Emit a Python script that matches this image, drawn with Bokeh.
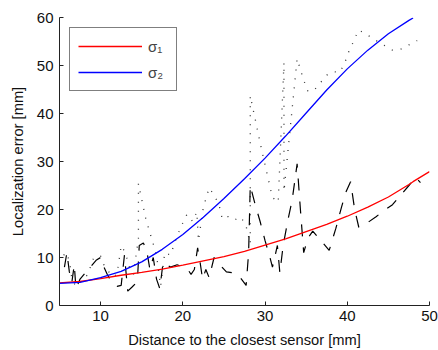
from bokeh.plotting import figure
from bokeh.models import Range1d, Legend, LegendItem, FixedTicker
from bokeh.embed import file_html
from bokeh.resources import INLINE

# Fitted model curves
fit_x = [5, 7.5, 10, 12.5, 15, 17.5, 20, 22.5, 25, 27.5, 30, 32.5, 35, 37.5, 40, 42.5, 45, 47.5, 48]
sigma1 = [4.7, 5.0, 5.6, 6.3, 6.9, 7.6, 8.4, 9.3, 10.2, 11.3, 12.6, 13.9, 15.4, 16.9, 18.6, 20.5, 22.6, 25.2, 25.8]
sigma2 = [4.6, 4.8, 5.8, 7.1, 9.1, 11.7, 14.8, 18.4, 22.3, 26.4, 30.7, 35.3, 40.1, 44.9, 49.3, 53.2, 56.6, 59.4, 59.9]
red_x_tail = [48, 50]
red_y_tail = [25.8, 27.9]

# Measured errors (dashed = sigma1 measurements)
dash_x = [5.6, 5.9, 6.2, 6.5, 6.8, 7.0, 7.5, 8.5, 9.5, 10.0, 10.4, 10.8, 11.3, 12.0, 12.5, 12.9, 13.3, 13.8,
          14.2, 14.5, 14.7, 15.2, 15.6, 16.0, 16.4, 16.8, 17.2, 17.6, 18.5, 19.3, 20.0, 20.6, 21.0, 21.4,
          21.8, 22.1, 22.4, 22.8, 23.2, 23.8, 24.5, 25.3, 26.2, 27.0, 27.7, 28.0, 28.2, 28.8, 29.4, 30.0,
          30.6, 30.9, 31.5, 31.8, 32.2, 32.8, 33.3, 33.9, 34.3, 34.7, 35.2, 35.8, 36.8, 37.8, 38.6, 39.3,
          39.8, 40.4, 40.9, 41.4, 42.5, 43.5, 44.5, 45.5, 46.5, 47.5, 48.3, 48.9]
dash_y = [8, 11, 7, 4.8, 8.5, 3.5, 5.5, 7.5, 9.5, 10, 8, 6.5, 5, 4, 4.2, 10.5, 3, 3.8,
          4.5, 6, 12.5, 13, 11.5, 7.5, 10, 5.5, 3.5, 9, 8, 8.5, 8, 7.5, 6.5, 7.5,
          12, 9, 5.5, 7.5, 5.8, 10, 8.5, 7, 6.8, 5.8, 4.2, 11, 25, 21, 17.5, 13.5,
          10, 8, 12.5, 6.8, 12.5, 18, 22, 29.5, 20, 11, 14, 15.5, 13.5, 11.5, 16, 20.5,
          23.5, 25.8, 20, 16.3, 17.3, 18.5, 19.8, 21, 23, 25, 26.7, 25.6]

# Measured errors (dotted = sigma2 measurements)
dot_x = [5.5, 5.9, 6.3, 6.5, 7.0, 7.5, 8.5, 9.0, 9.5, 10.0, 10.5, 11.0, 11.5, 12.0, 12.5, 13.0, 13.5, 14.0,
         14.6, 14.6, 15.5, 16.2, 16.8, 17.3, 17.8, 18.5, 19.2, 19.8, 20.5, 21.2, 21.7, 21.9, 22.5, 23.2,
         23.8, 24.4, 24.8, 25.5, 26.3, 26.9, 27.6, 28.2, 28.2, 29.6, 30.9, 31.6, 32.3, 32.3, 33.9, 34.4,
         34.8, 35.2, 35.9, 36.7, 37.4, 38.2, 39.1, 39.7, 40.0, 40.5, 41.0, 41.4, 42.5, 43.5, 44.5, 45.5,
         46.5, 47.5, 48.5]
dot_y = [10.5, 11, 8.3, 5.5, 4, 5, 6.5, 9.5, 10.3, 10.3, 8, 7, 6, 6.5, 12.5, 11, 8, 6.5,
         14.0, 25.4, 18, 14, 10.5, 4, 11, 10.5, 14, 16.5, 19, 17.5, 19.5, 13.5, 20.5, 24.5,
         23, 21, 18, 18.5, 17.8, 18.5, 17.2, 12.9, 43.7, 32.3, 22.5, 21.5, 50.6, 23.8, 51.4, 48.6,
         46.5, 44.7, 44.7, 46.3, 47.9, 48.7, 48.6, 50.5, 52.2, 54.0, 56.0, 57.4, 56.3, 55.2, 54.2, 53.2,
         53.4, 54.3, 55.2]

x_ticks = [10, 20, 30, 40, 50]
y_ticks = [0, 10, 20, 30, 40, 50, 60]
FONT = "Liberation Sans"

p = figure(width=438, height=350, x_range=Range1d(5, 50), y_range=Range1d(0, 60),
           output_backend="svg", toolbar_location=None,
           min_border_left=59, min_border_right=9, min_border_top=17, min_border_bottom=45)
p.outline_line_color = None
p.xgrid.visible = False
p.ygrid.visible = False
p.background_fill_color = "white"

p.line(dot_x, dot_y, line_color="#333333", line_width=1.3, line_dash="1 8")
p.line(dash_x, dash_y, line_color="black", line_width=1.2, line_dash="12 11")
r1 = p.line(fit_x[:-1] + red_x_tail, sigma1[:-1] + red_y_tail, line_color="#ff0000", line_width=1.3)
r2 = p.line(fit_x, sigma2, line_color="#0000ff", line_width=1.3)

for ax in (p.xaxis[0], p.yaxis[0]):
    ax.axis_line_color = "#222222"
    ax.major_tick_line_color = "#222222"
    ax.major_tick_in = 4
    ax.major_tick_out = 0
    ax.minor_tick_line_color = None
    ax.major_label_text_font = FONT
    ax.major_label_text_font_size = "15px"
    ax.major_label_text_color = "#111111"
    ax.axis_label_text_font = FONT
    ax.axis_label_text_font_size = "14.7px"
    ax.axis_label_text_font_style = "normal"
    ax.axis_label_text_color = "#111111"

p.xaxis.ticker = FixedTicker(ticks=x_ticks)
p.yaxis.ticker = FixedTicker(ticks=y_ticks)
p.xaxis.axis_label = "Distance to the closest sensor [mm]"
p.yaxis.axis_label = "Localization error [mm]"
p.xaxis.major_label_standoff = 5
p.xaxis.axis_label_standoff = 8
p.yaxis.major_label_standoff = 6
p.yaxis.axis_label_standoff = 8

legend = Legend(items=[LegendItem(label="σ₁", renderers=[r1]),
                       LegendItem(label="σ₂", renderers=[r2])],
                location="top_left", margin=10, padding=8, spacing=6,
                glyph_width=64, glyph_height=20, label_height=20, label_standoff=6,
                label_text_font=FONT, label_text_font_size="15px",
                border_line_color="black", border_line_width=1,
                background_fill_color="white", background_fill_alpha=1)
p.add_layout(legend, "center")

open("out.html", "w").write(file_html(p, INLINE))
